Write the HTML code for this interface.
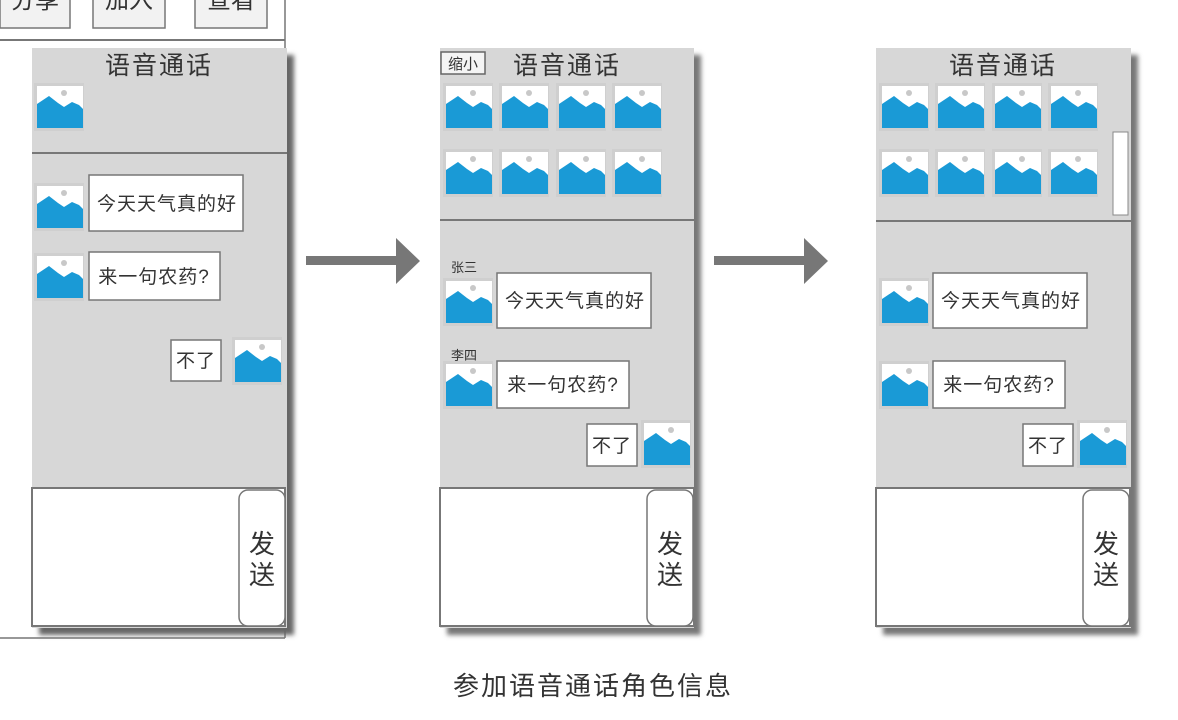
<!DOCTYPE html>
<html><head><meta charset="utf-8"><style>
html,body{margin:0;padding:0;background:#fff;width:1178px;height:720px;overflow:hidden}
text{font-family:"Liberation Sans","Noto Sans CJK SC",sans-serif;fill:#333}
.b{font-size:19px;letter-spacing:1px}
.t{font-size:25px;letter-spacing:2px}
</style></head><body>
<svg width="1178" height="720" viewBox="0 0 1178 720" xmlns="http://www.w3.org/2000/svg">
<defs>
<filter id="sh" x="-10%" y="-10%" width="130%" height="130%"><feGaussianBlur stdDeviation="2.5"/></filter>
<g id="ic">
<rect x="0" y="0" width="50" height="48" fill="#cfcfcf"/>
<rect x="3" y="3" width="46" height="42" fill="#fff"/>
<path d="M3 45 L3 21 L15 13 L24 20 L30 24 L38 19 L45 22 L49 26 L49 45 Z" fill="#1a9ad6"/>
<circle cx="30" cy="10" r="3" fill="#c8c8c8"/>
</g>
</defs>

<rect x="0" y="-10" width="70" height="38" fill="#f2f2f2" stroke="#777" stroke-width="1.5"/>
<rect x="93" y="-10" width="72" height="38" fill="#f2f2f2" stroke="#777" stroke-width="1.5"/>
<rect x="195" y="-10" width="72" height="38" fill="#f2f2f2" stroke="#777" stroke-width="1.5"/>
<text x="35" y="8" font-size="24" text-anchor="middle">分享</text>
<text x="129" y="8" font-size="24" text-anchor="middle">加入</text>
<text x="231" y="8" font-size="24" text-anchor="middle">查看</text>
<line x1="0" y1="40" x2="285" y2="40" stroke="#777" stroke-width="2"/>
<line x1="285" y1="0" x2="285" y2="638" stroke="#777" stroke-width="1.5"/>
<line x1="0" y1="638" x2="285" y2="638" stroke="#777" stroke-width="1.5"/>

<rect x="39" y="55" width="255" height="580" fill="#666" filter="url(#sh)"/>
<rect x="447" y="55" width="254" height="580" fill="#777" filter="url(#sh)"/>
<rect x="883" y="55" width="255" height="580" fill="#777" filter="url(#sh)"/>

<!-- Panel 1 -->
<rect x="32" y="48" width="255" height="580" fill="#d7d7d7"/>
<line x1="32" y1="153" x2="287" y2="153" stroke="#777" stroke-width="2"/>
<text x="159" y="74" class="t" text-anchor="middle">语音通话</text>
<use href="#ic" x="34" y="83"/>
<use href="#ic" x="34" y="183"/>
<rect x="89" y="175" width="154" height="56" fill="#fff" stroke="#777" stroke-width="1.5"/>
<text x="167" y="210" class="b" text-anchor="middle">今天天气真的好</text>
<use href="#ic" x="34" y="253"/>
<rect x="89" y="252" width="131" height="48" fill="#fff" stroke="#777" stroke-width="1.5"/>
<text x="154" y="283" class="b" text-anchor="middle">来一句农药?</text>
<rect x="171" y="340" width="50" height="41" fill="#fff" stroke="#777" stroke-width="1.5"/>
<text x="196" y="367" class="b" text-anchor="middle">不了</text>
<use href="#ic" x="232" y="337"/>
<rect x="32" y="488" width="253" height="138" fill="#fff" stroke="#777" stroke-width="2"/>
<rect x="239" y="490" width="46" height="136" rx="9" fill="#fff" stroke="#777" stroke-width="1.5"/>
<text x="262" y="553" font-size="26" text-anchor="middle">发</text>
<text x="262" y="584" font-size="26" text-anchor="middle">送</text>

<rect x="306" y="256" width="92" height="9" fill="#777"/>
<polygon points="396,238 420,261 396,284" fill="#777"/>
<rect x="714" y="256" width="92" height="9" fill="#777"/>
<polygon points="804,238 828,261 804,284" fill="#777"/>

<!-- Panel 2 -->
<rect x="440" y="48" width="254" height="580" fill="#d7d7d7"/>
<line x1="440" y1="220" x2="694" y2="220" stroke="#777" stroke-width="2"/>
<rect x="441" y="52" width="44" height="22" fill="#f4f4f4" stroke="#666" stroke-width="1.5"/>
<text x="463" y="69" font-size="15" text-anchor="middle">缩小</text>
<text x="567" y="74" class="t" text-anchor="middle">语音通话</text>
<use href="#ic" x="443" y="83"/><use href="#ic" x="499" y="83"/><use href="#ic" x="556" y="83"/><use href="#ic" x="612" y="83"/>
<use href="#ic" x="443" y="149"/><use href="#ic" x="499" y="149"/><use href="#ic" x="556" y="149"/><use href="#ic" x="612" y="149"/>
<text x="451" y="272" font-size="13">张三</text>
<use href="#ic" x="443" y="278"/>
<rect x="497" y="273" width="154" height="55" fill="#fff" stroke="#777" stroke-width="1.5"/>
<text x="575" y="307" class="b" text-anchor="middle">今天天气真的好</text>
<text x="451" y="360" font-size="13">李四</text>
<use href="#ic" x="443" y="361"/>
<rect x="497" y="361" width="132" height="47" fill="#fff" stroke="#777" stroke-width="1.5"/>
<text x="563" y="391" class="b" text-anchor="middle">来一句农药?</text>
<rect x="587" y="424" width="50" height="42" fill="#fff" stroke="#777" stroke-width="1.5"/>
<text x="612" y="452" class="b" text-anchor="middle">不了</text>
<use href="#ic" x="641" y="420"/>
<rect x="440" y="488" width="254" height="138" fill="#fff" stroke="#777" stroke-width="2"/>
<rect x="647" y="490" width="46" height="136" rx="9" fill="#fff" stroke="#777" stroke-width="1.5"/>
<text x="670" y="553" font-size="26" text-anchor="middle">发</text>
<text x="670" y="584" font-size="26" text-anchor="middle">送</text>

<!-- Panel 3 -->
<rect x="876" y="48" width="255" height="580" fill="#d7d7d7"/>
<line x1="876" y1="221" x2="1131" y2="221" stroke="#777" stroke-width="2"/>
<text x="1003" y="74" class="t" text-anchor="middle">语音通话</text>
<use href="#ic" x="879" y="83"/><use href="#ic" x="935" y="83"/><use href="#ic" x="992" y="83"/><use href="#ic" x="1048" y="83"/>
<use href="#ic" x="879" y="149"/><use href="#ic" x="935" y="149"/><use href="#ic" x="992" y="149"/><use href="#ic" x="1048" y="149"/>
<rect x="1113" y="132" width="15" height="83" fill="#fff" stroke="#888" stroke-width="1"/>
<use href="#ic" x="879" y="278"/>
<rect x="933" y="273" width="154" height="55" fill="#fff" stroke="#777" stroke-width="1.5"/>
<text x="1011" y="307" class="b" text-anchor="middle">今天天气真的好</text>
<use href="#ic" x="879" y="361"/>
<rect x="933" y="361" width="132" height="47" fill="#fff" stroke="#777" stroke-width="1.5"/>
<text x="999" y="391" class="b" text-anchor="middle">来一句农药?</text>
<rect x="1023" y="424" width="50" height="42" fill="#fff" stroke="#777" stroke-width="1.5"/>
<text x="1048" y="452" class="b" text-anchor="middle">不了</text>
<use href="#ic" x="1077" y="420"/>
<rect x="876" y="488" width="254" height="138" fill="#fff" stroke="#777" stroke-width="2"/>
<rect x="1083" y="490" width="46" height="136" rx="9" fill="#fff" stroke="#777" stroke-width="1.5"/>
<text x="1106" y="553" font-size="26" text-anchor="middle">发</text>
<text x="1106" y="584" font-size="26" text-anchor="middle">送</text>

<text x="593" y="695" font-size="26" letter-spacing="2" text-anchor="middle">参加语音通话角色信息</text>
</svg>
</body></html>
